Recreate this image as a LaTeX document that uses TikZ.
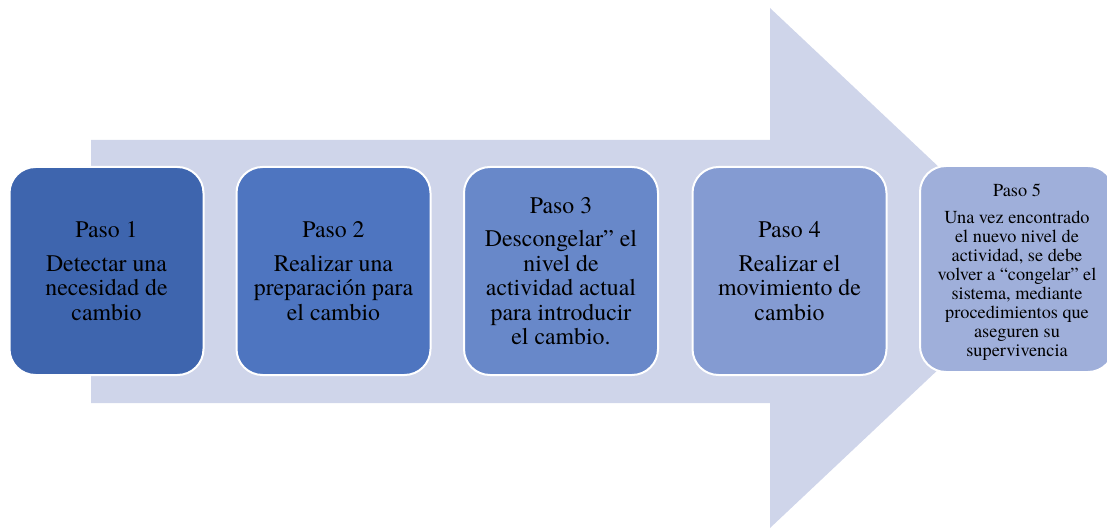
\documentclass[tikz,border=0pt]{standalone}
\usepackage{fontspec}
\setmainfont{TeX Gyre Termes}
\definecolor{arrowfill}{HTML}{CFD5EA}
\definecolor{c1}{HTML}{3E65AE}
\definecolor{c2}{HTML}{4E75C0}
\definecolor{c3}{HTML}{6888C9}
\definecolor{c4}{HTML}{849BD2}
\definecolor{c5}{HTML}{9FAFDA}
\tikzset{
  stepbox/.style={draw=white, line width=2pt, rounded corners=26pt, minimum width=194pt, minimum height=208pt, inner sep=0pt, align=center, text=black},
  bigtext/.style={font=\fontsize{23.8}{24.5}\selectfont},
  smalltext/.style={font=\fontsize{18.3}{19}\selectfont, align=center, inner sep=0pt, text=black}
}
\begin{document}
\begin{tikzpicture}[x=1pt,y=-1pt]
\useasboundingbox (0,0) rectangle (1107,529);
\clip (0,0) rectangle (1107,529);
\fill[arrowfill] (91,140) -- (770,140) -- (770,8) -- (1046,268) -- (770,528) -- (770,403) -- (91,403) -- cycle;
\node[stepbox, fill=c1, bigtext] (b1) at (106.5,271) {Paso 1\\[9pt]Detectar una\\necesidad de\\cambio};
\node[stepbox, fill=c2, bigtext] (b2) at (333.5,271) {Paso 2\\[9pt]Realizar una\\preparación para\\el cambio};
\node[stepbox, fill=c3, bigtext] (b3) at (561,271) {Paso 3\\[9pt]Descongelar” el\\nivel de\\actividad actual\\para introducir\\el cambio.};
\node[stepbox, fill=c4, bigtext] (b4) at (789.5,271) {Paso 4\\[9pt]Realizar el\\movimiento de\\cambio};
\node[stepbox, fill=c5, minimum height=206pt] (b5) at (1017,269) {};
\node[smalltext] (t5) at ([yshift=-3pt]b5.center) {Paso 5\\[8pt]Una vez encontrado\\el nuevo nivel de\\actividad, se debe\\volver a “congelar” el\\sistema, mediante\\procedimientos que\\aseguren su\\supervivencia};
\end{tikzpicture}
\end{document}
